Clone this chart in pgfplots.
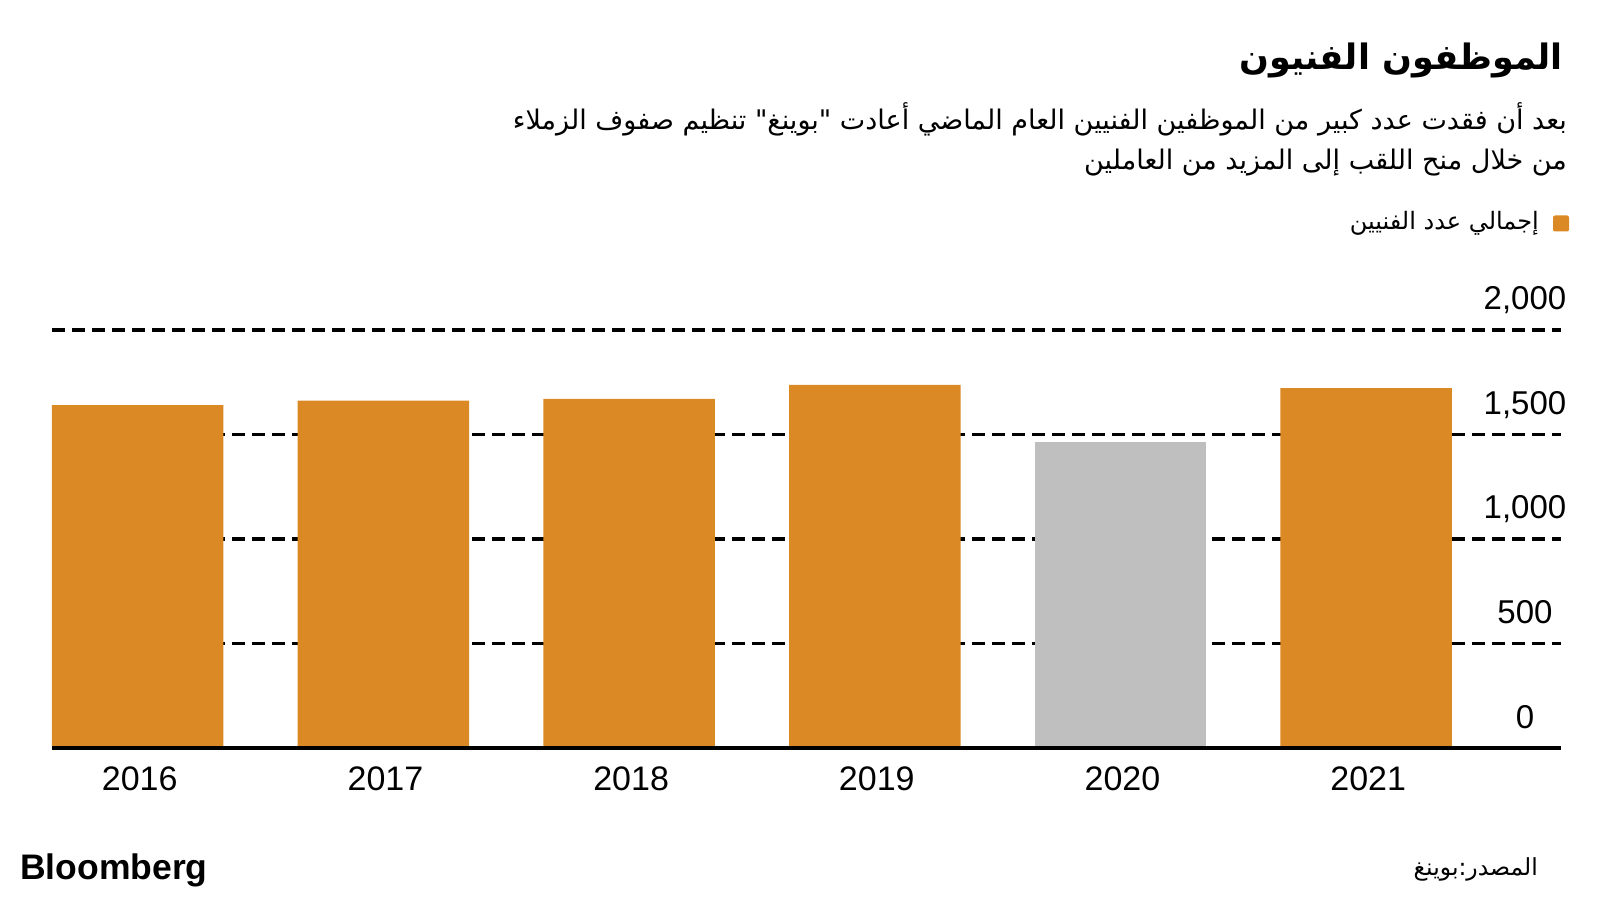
\documentclass[border=0pt]{standalone}
\usepackage{pgfplots}
\pgfplotsset{compat=1.18}
\usepackage{fontspec}
\setmainfont{Liberation Sans}
\newfontfamily\arabicfont[Script=Arabic]{DejaVu Sans}
\TeXXeTstate=1
\definecolor{barorange}{HTML}{DB8924}
\definecolor{bargray}{HTML}{BFBFBF}
\begin{document}
\begin{tikzpicture}
\path[use as bounding box] (0pt,0pt) rectangle (1600pt,900pt);
\begin{axis}[
  at={(52pt,152pt)}, anchor=south west, scale only axis,
  width=1509pt, height=418pt,
  xmin=-0.349, xmax=5.793, ymin=0, ymax=2000,
  axis line style={draw=none},
  tick style={draw=none},
  xtick={0,1,2,3,4,5},
  xticklabels={2016,2017,2018,2019,2020,2021},
  ytick={500,1000,1500,2000},
  extra y ticks={0},
  extra y tick style={grid=none},
  ymajorgrids,
  grid style={black, line width=3.4pt, dash pattern=on 13pt off 7pt},
  yticklabel pos=right,
  xtick pos=bottom,
  ticklabel style={font=\fontsize{33}{33}\selectfont, inner sep=0pt},
  yticklabel style={anchor=base, xshift=-36pt, yshift=20pt},
  xticklabel style={anchor=north, yshift=-19pt, xshift=2pt, font=\fontsize{34}{34}\selectfont},
  /pgf/number format/assume math mode=true,
  /pgf/number format/1000 sep={,},
  clip=false,
]
\addplot[ybar, bar width=171.5pt, bar shift=0pt, fill=barorange, draw=none]
  coordinates {(0,1641) (1,1662) (2,1671) (3,1737) (5,1722)};
\addplot[ybar, bar width=171.5pt, bar shift=0pt, fill=bargray, draw=none]
  coordinates {(4,1463)};
\draw[black, line width=3.5pt] (axis cs:-0.349,0) -- (axis cs:5.793,0);
\end{axis}
% titles
\node[anchor=base east, inner sep=0pt, font=\arabicfont\bfseries\fontsize{35}{35}\selectfont] at (1563pt,830pt) {\beginR الموظفون الفنيون\endR};
\node[anchor=base east, inner sep=0pt, font=\arabicfont\fontsize{27}{27}\selectfont] at (1567pt,770pt) {\beginR بعد أن فقدت عدد كبير من الموظفين الفنيين العام الماضي أعادت "بوينغ" تنظيم صفوف الزملاء\endR};
\node[anchor=base east, inner sep=0pt, font=\arabicfont\fontsize{27}{27}\selectfont] at (1567pt,730pt) {\beginR من خلال منح اللقب إلى المزيد من العاملين\endR};
% legend
\fill[barorange, rounded corners=2pt] (1553pt,668.5pt) rectangle (1569pt,684.5pt);
\node[anchor=base east, inner sep=0pt, font=\arabicfont\fontsize{24}{24}\selectfont] at (1539pt,670pt) {\beginR إجمالي عدد الفنيين\endR};
% footer
\node[anchor=base west, inner sep=0pt, font=\bfseries\fontsize{35.5}{35.5}\selectfont] at (20pt,21pt) {Bloomberg};
\node[anchor=base east, inner sep=0pt, font=\arabicfont\fontsize{23.5}{23.5}\selectfont] at (1538pt,25pt) {\beginR المصدر:بوينغ\endR};
\end{tikzpicture}
\end{document}
